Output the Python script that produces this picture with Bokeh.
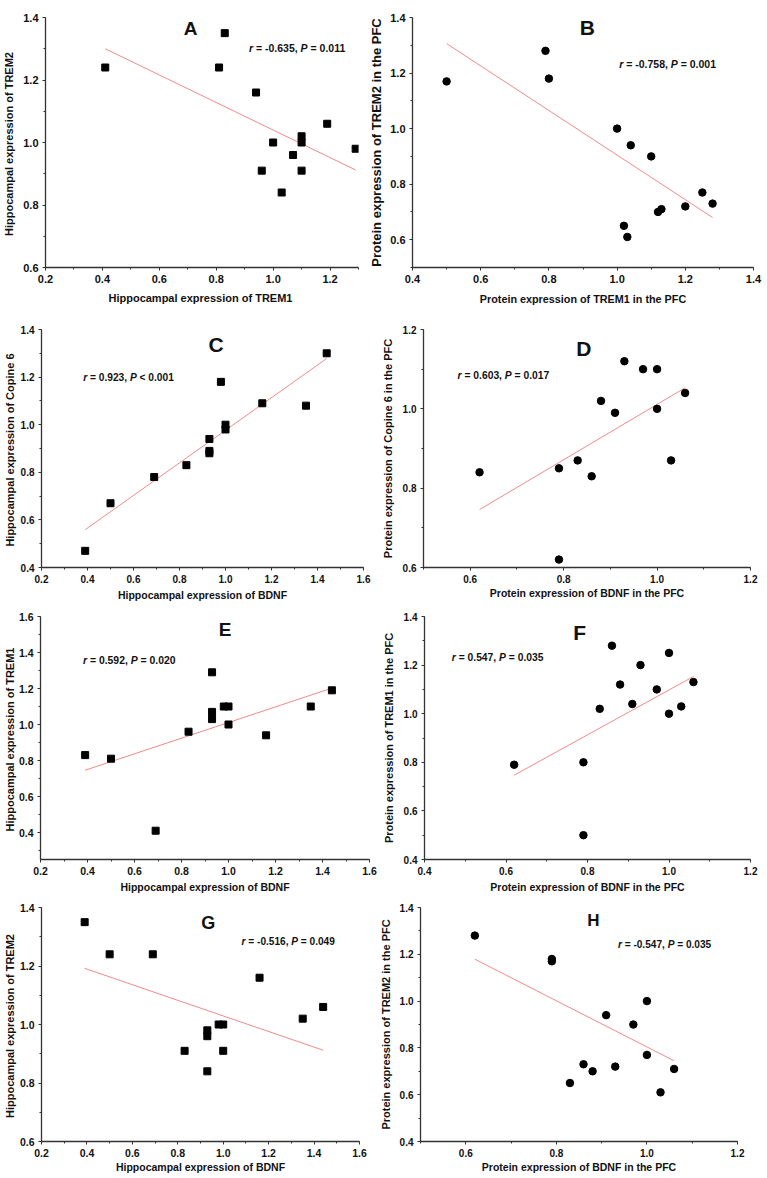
import math
import numpy as np
from bokeh.plotting import figure
from bokeh.layouts import column, row
from bokeh.models import Range1d, FixedTicker, PrintfTickFormatter, Label
from bokeh.embed import file_html
from bokeh.resources import INLINE

# ---------------- data (one entry per animal) ----------------
hip_bdnf  = [0.39, 0.50, 0.69, 0.83, 0.93, 0.93, 0.93, 0.98, 1.00, 1.00, 1.16, 1.35, 1.44]
hip_trem1 = [0.83, 0.81, 0.41, 0.96, 1.29, 1.07, 1.03, 1.10, 1.10, 1.00, 0.94, 1.10, 1.19]
hip_trem2 = [1.35, 1.24, 1.24, 0.91, 0.98, 0.96, 0.84, 1.00, 0.91, 1.00, 1.16, 1.02, 1.06]
hip_cpne6 = [0.47, 0.67, 0.78, 0.83, 0.94, 0.89, 0.88, 1.18, 1.00, 0.98, 1.09, 1.08, 1.30]

pfc_bdnf  = [0.62, 0.79, 0.79, 0.83, 0.86, 0.88, 0.91, 0.93, 0.97, 1.00, 1.00, 1.03, 1.06]
pfc_trem1 = [0.79, 0.80, 0.50, 1.02, 1.28, 1.12, 1.04, 1.20, 1.10, 1.25, 1.00, 1.03, 1.13]
pfc_trem2 = [1.28, 1.18, 1.17, 0.65, 0.73, 0.70, 0.94, 0.72, 0.90, 0.77, 1.00, 0.61, 0.71]
pfc_cpne6 = [0.84, 0.85, 0.62, 0.87, 0.83, 1.02, 0.99, 1.12, 1.10, 1.10, 1.00, 0.87, 1.04]

# regression line values (as drawn in the figure) at the smallest and largest x of each panel
fit_y_start = [1.300, 1.306, 0.559, 0.746, 0.746, 0.747, 1.192, 1.179]
fit_y_end   = [0.912, 0.680, 1.278, 1.053, 1.202, 1.153, 0.912, 0.745]

panel_letters = ["A", "B", "C", "D", "E", "F", "G", "H"]
r_values = ["-0.635", "-0.758", "0.923", "0.603", "0.592", "0.547", "-0.516", "-0.547"]
p_rel    = ["=", "=", "<", "=", "=", "=", "=", "="]
p_values = ["0.011", "0.001", "0.001", "0.017", "0.020", "0.035", "0.049", "0.035"]

x_titles = ["Hippocampal  expression of TREM1", "Protein expression of TREM1 in the PFC",
            "Hippocampal expression of BDNF", "Protein expression of BDNF in the PFC",
            "Hippocampal expression of BDNF", "Protein expression of BDNF in the PFC",
            "Hippocampal expression of BDNF", "Protein expression of BDNF in the PFC"]
y_titles = ["Hippocampal  expression of TREM2", "Protein expression of TREM2 in the PFC",
            "Hippocampal  expression of Copine 6", "Protein expression of Copine 6 in the PFC",
            "Hippocampal  expression of TREM1", "Protein expression of TREM1 in the PFC",
            "Hippocampal  expression of TREM2", "Protein expression of TREM2 in the PFC"]

panel_x = [hip_trem1, pfc_trem1, hip_bdnf, pfc_bdnf, hip_bdnf, pfc_bdnf, hip_bdnf, pfc_bdnf]
panel_y = [hip_trem2, pfc_trem2, hip_cpne6, pfc_cpne6, hip_trem1, pfc_trem1, hip_trem2, pfc_trem2]

# ---------------- styling / layout ----------------
FONT = "Liberation Sans"
x_ranges = [(0.2, 1.3), (0.4, 1.4), (0.2, 1.6), (0.5, 1.2), (0.2, 1.6), (0.4, 1.2), (0.2, 1.6), (0.5, 1.2)]
y_ranges = [(0.6, 1.4), (0.5, 1.4), (0.4, 1.4), (0.6, 1.2), (0.25, 1.6), (0.4, 1.4), (0.6, 1.4), (0.4, 1.4)]
# (width, height, left, right, top, bottom)
geom = [(366, 310, 44, 8, 17, 43), (399, 310, 37, 12, 13, 43),
        (378, 295, 40, 15, 19, 38), (387, 295, 39, 15, 14, 37),
        (379, 290, 37, 10, 10, 36), (386, 290, 40, 15, 11, 36),
        (376, 281, 40, 17, 12, 35), (389, 281, 37, 28, 9, 35)]
tick_font = [11, 11, 10, 10, 10.5, 10, 10.5, 10]
y_title_standoff = [5, 3, 2, 6, 0, 6, 1, 5]
x_title_standoff = [6, 7, 3, 1, 3, 3, 1, 1]
letter_pos = [(0.71, 1.364), (0.913, 1.364), (0.959, 1.336), (0.843, 1.152),
              (0.986, 1.53), (0.781, 1.335), (0.934, 1.348), (0.882, 1.344)]
letter_size = [19, 21, 21, 21, 19, 21, 18, 17]
stat_pos = [(0.915, 1.302), (1.006, 1.233), (0.381, 1.197), (0.573, 1.084),
            (0.381, 1.354), (0.467, 1.23), (1.081, 1.284), (0.936, 1.24)]
stat_size = [10.5, 10.5, 10.2, 10.3, 10.4, 10.3, 10.1, 10.1]
y_title_size = ["11px", "13px", "11px", "11px", "11px", "11px", "11px", "11px"]
x_title_size = ["11px", "10.8px", "10.5px", "10.5px", "10.5px", "10.5px", "10.5px", "10.5px"]

# Arial/Liberation Sans Bold advance widths (1/1000 em)
W = {" ": 278, "=": 584, "<": 584, "-": 333, ".": 278, ",": 278, "r": 389, "P": 667}
for d in "0123456789":
    W[d] = 556


def tw(s, fs):
    return sum(W.get(c, 556) for c in s) * fs / 1000.0


def ticks(lo, hi, step):
    k0 = math.ceil(lo / step - 1e-9)
    k1 = math.floor(hi / step + 1e-9)
    return [round(k * step, 2) for k in range(k0, k1 + 1)]


def make_panel(i):
    w, h, bl, br, bt, bb = geom[i]
    p = figure(width=w, height=h, x_range=Range1d(*x_ranges[i]), y_range=Range1d(*y_ranges[i]),
               output_backend="svg", toolbar_location=None,
               min_border_left=bl, min_border_right=br, min_border_top=bt, min_border_bottom=bb)
    p.grid.visible = False
    p.outline_line_color = None
    p.background_fill_color = "white"
    p.border_fill_color = "white"

    for ax, rng in ((p.xaxis[0], x_ranges[i]), (p.yaxis[0], y_ranges[i])):
        ax.ticker = FixedTicker(ticks=ticks(rng[0], rng[1], 0.2), minor_ticks=ticks(rng[0], rng[1], 0.1))
        ax.formatter = PrintfTickFormatter(format="%.1f")
        ax.axis_line_color = "#333333"
        ax.axis_line_width = 1.3
        ax.major_tick_line_color = "#333333"
        ax.minor_tick_line_color = "#333333"
        ax.major_tick_out = 3
        ax.major_tick_in = 0
        ax.minor_tick_out = 2
        ax.minor_tick_in = 0
        ax.major_label_text_font = FONT
        ax.major_label_text_font_style = "bold"
        ax.major_label_text_font_size = f"{tick_font[i]}px"
        ax.major_label_text_color = "#111111"
        ax.major_label_standoff = 4
        ax.axis_label_text_font = FONT
        ax.axis_label_text_font_style = "bold"
        ax.axis_label_text_color = "#111111"
    p.xaxis.axis_label = x_titles[i]
    p.yaxis.axis_label = y_titles[i]
    p.xaxis.axis_label_text_font_size = x_title_size[i]
    p.yaxis.axis_label_text_font_size = y_title_size[i]
    p.xaxis.axis_label_standoff = x_title_standoff[i]
    p.yaxis.axis_label_standoff = y_title_standoff[i]

    xs = np.array(panel_x[i])
    ys = np.array(panel_y[i])
    p.line([xs.min(), xs.max()], [fit_y_start[i], fit_y_end[i]], line_color="#f08a8a", line_width=1)

    marker = "square" if i % 2 == 0 else "circle"
    p.scatter(xs, ys, marker=marker, size=7 if marker == "square" else 7.5,
              fill_color="black", line_color="black")

    lxp, lyp = letter_pos[i]
    p.add_layout(Label(x=lxp, y=lyp, text=panel_letters[i], text_font=FONT, text_font_style="bold",
                       text_font_size=f"{letter_size[i]}px", text_align="center",
                       text_baseline="middle", text_color="#111111"))

    fs = stat_size[i]
    sx, sy = stat_pos[i]
    pieces = [("r", "bold italic"), (f"= {r_values[i]},", "bold"),
              ("P", "bold italic"), (f"{p_rel[i]} {p_values[i]}", "bold")]
    off = 0.0
    for txt, style in pieces:
        p.add_layout(Label(x=sx, y=sy, x_offset=off, text=txt, text_font=FONT, text_font_style=style,
                           text_font_size=f"{fs}px", text_align="left", text_baseline="middle",
                           text_color="#111111"))
        off += tw(txt, fs) + tw(" ", fs)
    return p


panels = [make_panel(i) for i in range(8)]
layout = column(row(panels[0], panels[1]), row(panels[2], panels[3]),
                row(panels[4], panels[5]), row(panels[6], panels[7]))

open("out.html", "w").write(file_html(layout, INLINE))
